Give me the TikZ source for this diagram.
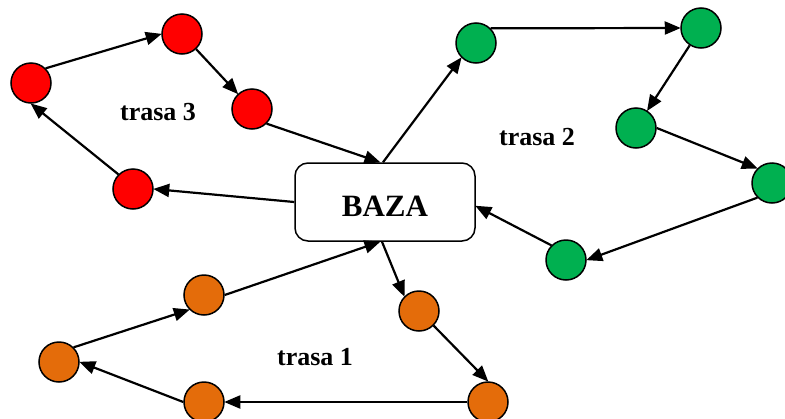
\documentclass[tikz,border=0pt]{standalone}
\usepackage{fontspec}
\setmainfont{Liberation Serif}
\usetikzlibrary{arrows.meta}
\definecolor{cred}{HTML}{FF0000}
\definecolor{cgreen}{HTML}{00B050}
\definecolor{corange}{HTML}{E46C0A}
\tikzset{
  stop/.style={circle, draw=black, line width=1.5pt, minimum size=40pt, inner sep=0pt},
  redstop/.style={stop, fill=cred},
  greenstop/.style={stop, fill=cgreen},
  orangestop/.style={stop, fill=corange},
  base/.style={draw=black, line width=1.5pt, rounded corners=13pt, minimum width=180pt, minimum height=78pt, fill=white, font=\bfseries\fontsize{31}{36}\selectfont},
  route/.style={line width=2.2pt, -{Triangle[length=16pt,width=13pt]}, shorten >=-0.5pt},
  lbl/.style={font=\bfseries\fontsize{26}{30}\selectfont}
}
\begin{document}
\begin{tikzpicture}[x=1pt,y=-1pt]
\useasboundingbox (0,0) rectangle (785,418);
\node[base] (baza) at (385,202) {\rule{0pt}{29.5pt}BAZA};
% red route
\node[redstop] (r1) at (182,34) {};
\node[redstop] (r2) at (252,109) {};
\node[redstop] (r3) at (31,83) {};
\node[redstop] (r4) at (133,189) {};
% green route
\node[greenstop] (g1) at (476,43) {};
\node[greenstop] (g2) at (701,28) {};
\node[greenstop] (g3) at (636,128) {};
\node[greenstop] (g4) at (772,183) {};
\node[greenstop] (g5) at (566,260) {};
% orange route
\node[orangestop] (o1) at (204,295) {};
\node[orangestop] (o2) at (59,362) {};
\node[orangestop] (o3) at (204,402) {};
\node[orangestop] (o4) at (419,311) {};
\node[orangestop] (o5) at (488,402) {};
% labels
\node[lbl] (t3) at (158,112) {trasa 3};
\node[lbl] (t2) at (537,137) {trasa 2};
\node[lbl] (t1) at (315,357) {trasa 1};
% red arrows
\draw[route] (r2.south east) -- ([xshift=-5pt]baza.north);
\draw[route] (baza.west) -- (r4.east);
\draw[route] (r4.north west) -- (r3.south);
\draw[route] (r3.north east) -- (r1.west);
\draw[route] (r1) -- (r2);
% green arrows
\draw[route] ([xshift=-2pt]baza.north) -- (g1.south west);
\draw[route] (g1.north east) -- (g2.west);
\draw[route] (g2) -- (g3);
\draw[route] (g3.east) -- (g4.north west);
\draw[route] (g4.south west) -- (g5.east);
\draw[route] (g5.north west) -- ([yshift=-4pt]baza.east);
% orange arrows
\draw[route] ([xshift=-3pt]baza.south) -- (o4.north west);
\draw[route] (o4.south east) -- (o5.north);
\draw[route] (o5.west) -- (o3.east);
\draw[route] (o3.west) -- (o2.east);
\draw[route] (o2.north east) -- (o1.south west);
\draw[route] (o1.east) -- ([xshift=-5pt]baza.south);
\end{tikzpicture}
\end{document}
